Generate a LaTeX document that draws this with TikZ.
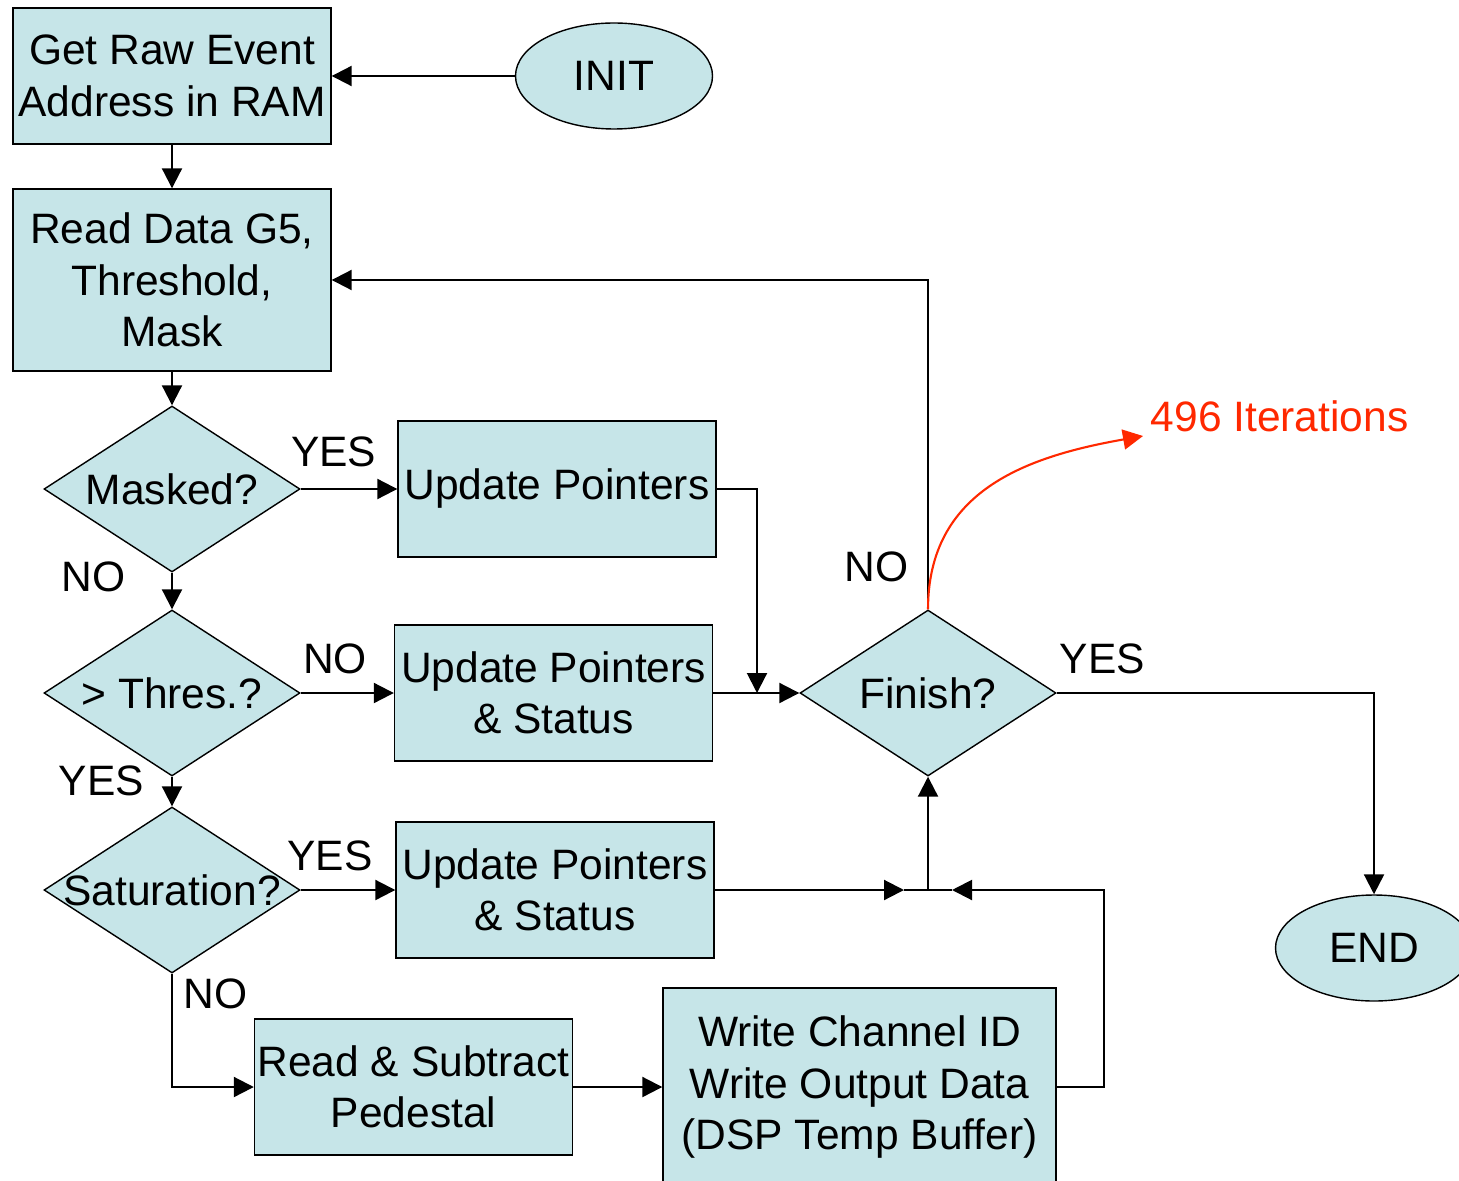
\documentclass[tikz,border=0pt]{standalone}
\usepackage{fontspec}
\setmainfont{Liberation Sans}
\usetikzlibrary{shapes.geometric,arrows.meta,positioning}
\definecolor{boxfill}{RGB}{198,229,232}
\definecolor{iterred}{RGB}{255,40,0}
\begin{document}
\begin{tikzpicture}[
  block/.style={rectangle, draw, fill=boxfill, minimum width=3.18cm, minimum height=1.36cm, inner sep=0.5pt, align=center},
  decision/.style={diamond, draw, fill=boxfill, minimum width=2.56cm, minimum height=1.66cm, inner sep=0pt},
  terminal/.style={ellipse, draw, fill=boxfill, minimum width=1.97cm, minimum height=1.06cm, inner sep=0pt},
  lbl/.style={inner sep=0pt},
  flow/.style={-{Triangle[length=0.2cm,width=0.2cm]}, line width=0.6pt},
  node distance=2cm,
  font=\fontsize{12.1}{14.6}\selectfont
]
\useasboundingbox (0,0) rectangle (14.59,11.8);

\node[block, minimum height=1.36cm] (getraw) at (1.72,11.04) {Get Raw Event\\Address in RAM};
\node[terminal, right of=getraw, node distance=4.42cm] (init) {INIT};
\node[block, below of=getraw, node distance=2.04cm, minimum height=1.82cm] (readdata) {Read Data G5,\\Threshold,\\Mask};

\node[decision, below of=readdata, node distance=2.09cm, label=center:{Masked?}] (masked) {};
\node[block, right of=masked, node distance=3.85cm] (up1) {Update Pointers};
\node[decision, below of=masked, node distance=2.04cm, label=center:{> Thres.?}] (thres) {};
\node[block, right of=thres, node distance=3.815cm] (up2) {Update Pointers\\\& Status};
\node[decision, below of=thres, node distance=1.97cm, label=center:{Saturation?}] (sat) {};
\node[block, right of=sat, node distance=3.83cm] (up3) {Update Pointers\\\& Status};

\node[block, below of=sat, node distance=1.97cm, xshift=2.415cm] (readped) {Read \& Subtract\\Pedestal};
\node[block, right of=readped, node distance=4.46cm, minimum width=3.93cm, minimum height=1.98cm] (write) {Write Channel ID\\Write Output Data\\(DSP Temp Buffer)};

\node[decision, right of=thres, node distance=7.56cm, label=center:{Finish?}] (finish) {};
\node[terminal, right of=finish, node distance=4.46cm, yshift=-2.55cm] (end) {END};
\node[lbl, text=iterred, anchor=south west] (iter) at (11.5,7.47) {496 Iterations};

\coordinate[right of=up2, node distance=2.035cm] (merge);
\coordinate (join) at (finish |- sat);

\draw[flow] (init) -- (getraw);
\draw[flow] (getraw) -- (readdata);
\draw[flow] (readdata) -- (masked);
\draw[flow] (masked) -- node[lbl, pos=0.34, above=0.21cm] (yes1) {YES} (up1);
\draw[flow] (masked) -- node[lbl, pos=0.1, left=0.455cm] (no1) {NO} (thres);
\draw[flow] (thres) -- node[lbl, pos=0.37, above=0.18cm] (no2) {NO} (up2);
\draw[flow] (thres) -- node[lbl, pos=0.13, left=0.27cm] (yes2) {YES} (sat);
\draw[flow] (sat) -- node[lbl, pos=0.31, above=0.18cm] (yes3) {YES} (up3);
\draw[flow] (sat.south) |- node[lbl, pos=0.09, right=0.105cm] (no3) {NO} (readped.west);
\draw[flow] (readped) -- (write);

\draw[flow] (up1.east) -| (merge);
\draw[flow] (up2) -- (finish);
\draw[flow, shorten >=0.24cm] (up3.east) -- (join);
\draw[flow, shorten >=0.24cm] (write.east) -- ++(0.47,0) |- (join);
\draw[line width=0.6pt] ([xshift=-0.24cm]join) -- ([xshift=0.24cm]join);
\draw[flow] (join) -- (finish.south);

\draw[flow] (finish.north) |- node[lbl, pos=0.065, left=0.185cm] (no4) {NO} (readdata.east);
\draw[flow] (finish.east) -| node[lbl, pos=0.072, above=0.18cm] (yes4) {YES} (end.north);
\draw[flow, iterred] (finish.north) to[out=90, in=190, looseness=1.1] ([xshift=-0.07cm, yshift=-0.03cm]iter.south west);
\end{tikzpicture}
\end{document}
